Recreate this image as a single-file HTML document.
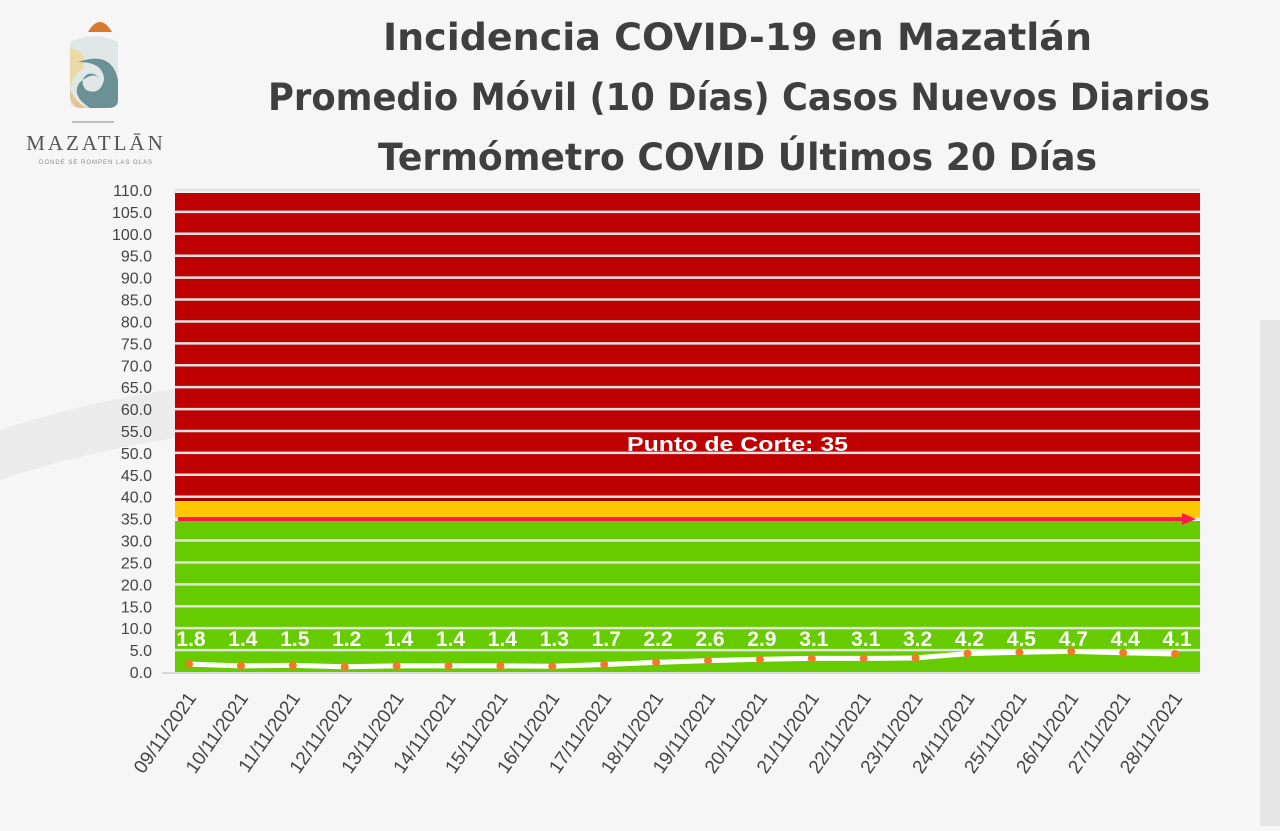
<!DOCTYPE html>
<html><head><meta charset="utf-8"><style>
body{margin:0;width:1280px;height:826px;background:#f6f6f6;overflow:hidden;font-family:"Liberation Sans",sans-serif}
</style></head><body>
<svg width="1280" height="826" xmlns="http://www.w3.org/2000/svg">
<rect width="1280" height="826" fill="#f6f6f6"/>
<path d="M0 430 Q300 330 700 420 L700 460 Q300 380 0 480Z" fill="#ececec"/>
<path d="M1280 320 L1280 826 L1260 826 L1260 320Z" fill="#e6e6e6"/>
<!-- logo -->
<path d="M88 32 Q100 12 112 32Z" fill="#d9782f"/>
<path d="M70 42 Q95 30 118 42 L118 100 Q118 108 110 108 L80 108 Q70 108 70 100Z" fill="#dfe8e6"/>
<path d="M70 48 Q90 52 82 70 Q72 75 70 90Z" fill="#ecd9a8"/>
<path d="M78 62 Q112 50 118 80 L118 100 Q118 108 108 108 L90 108 Q70 95 80 82 Q95 70 100 80 Q96 72 88 74 Q78 80 86 90 Q100 96 104 80 Q104 62 78 62Z" fill="#6b9096"/>
<path d="M70 90 Q80 110 95 108 L78 108 Q70 104 70 95Z" fill="#e6c48f"/>
<line x1="72" y1="122" x2="114" y2="122" stroke="#888" stroke-width="1"/>
<text x="96" y="150" font-family="Liberation Serif,serif" font-size="21" fill="#555" text-anchor="middle" letter-spacing="3">MAZATLĀN</text>
<text x="96" y="164" font-size="6" fill="#888" text-anchor="middle" letter-spacing="1">DONDE SE ROMPEN LAS OLAS</text>
<!-- title -->
<g font-weight="bold" font-size="37" fill="#3f3f3f" font-family="DejaVu Sans,sans-serif">
<text x="383" y="50" textLength="709" lengthAdjust="spacingAndGlyphs">Incidencia COVID-19 en Mazatlán</text>
<text x="268" y="110" textLength="942" lengthAdjust="spacingAndGlyphs">Promedio Móvil (10 Días) Casos Nuevos Diarios</text>
<text x="378" y="170" textLength="719" lengthAdjust="spacingAndGlyphs">Termómetro COVID Últimos 20 Días</text>
</g>
<!-- bands -->
<rect x="175" y="193" width="1025" height="306" fill="#bf0000"/>
<rect x="175" y="499" width="1025" height="2" fill="#8c0000"/>
<rect x="175" y="501" width="1025" height="17" fill="#ffc800"/>
<rect x="175" y="521" width="1025" height="151" fill="#66cc00"/>
<g stroke="#e2e2e2" stroke-width="2.5" id="grid"></g>
<rect x="178" y="517" width="1010" height="4" fill="#ff1a4a"/>
<polygon points="1182,513 1196,519 1182,525" fill="#ff1a4a"/>
<text x="627" y="451" font-weight="bold" font-size="20" fill="#fff" textLength="221" lengthAdjust="spacingAndGlyphs">Punto de Corte: 35</text>
<g id="ylab" font-size="16" fill="#444" text-anchor="end" font-family="Liberation Sans Narrow,Liberation Sans,sans-serif"></g>
<g id="series"></g>
</svg>
<script>
var ns="http://www.w3.org/2000/svg";
function el(t,a,p,txt){var e=document.createElementNS(ns,t);for(var k in a)e.setAttribute(k,a[k]);if(txt!==undefined)e.textContent=txt;document.querySelector(p).appendChild(e);return e;}
function Y(v){return 672-v*4.382;}
for(var v=0;v<=110;v+=5){var y=Y(v);
 if(v>0)el("line",{x1:175,x2:1200,y1:y,y2:y},"#grid");
 else el("line",{x1:162,x2:1200,y1:y+1,y2:y+1,stroke:"#d8d8d8","stroke-width":2},"#grid");
 el("text",{x:152,y:y+6},"#ylab",v.toFixed(1));}
var vals=[1.8,1.4,1.5,1.2,1.4,1.4,1.4,1.3,1.7,2.2,2.6,2.9,3.1,3.1,3.2,4.2,4.5,4.7,4.4,4.1];
var pts=vals.map(function(v,i){return [189+i*51.9,Y(v)];});
el("polyline",{points:pts.map(function(p){return p.join(",")}).join(" "),fill:"none",stroke:"#fff","stroke-width":5},"#series");
pts.forEach(function(p,i){
 el("circle",{cx:p[0],cy:p[1],r:4,fill:"#f07a28"},"#series");
 el("text",{x:p[0]+2,y:646,"font-size":21,"font-weight":"bold",fill:"#fff","text-anchor":"middle","font-family":"Liberation Sans Narrow,Liberation Sans,sans-serif"},"#series",vals[i].toFixed(1));
 var d=9+i;var lab=(d<10?"0"+d:d)+"/11/2021";
 el("text",{x:0,y:0,"font-size":19,fill:"#444","text-anchor":"end",transform:"translate("+(p[0]+8)+",698) rotate(-55)"},"#series",lab);
});
</script>
</body></html>
